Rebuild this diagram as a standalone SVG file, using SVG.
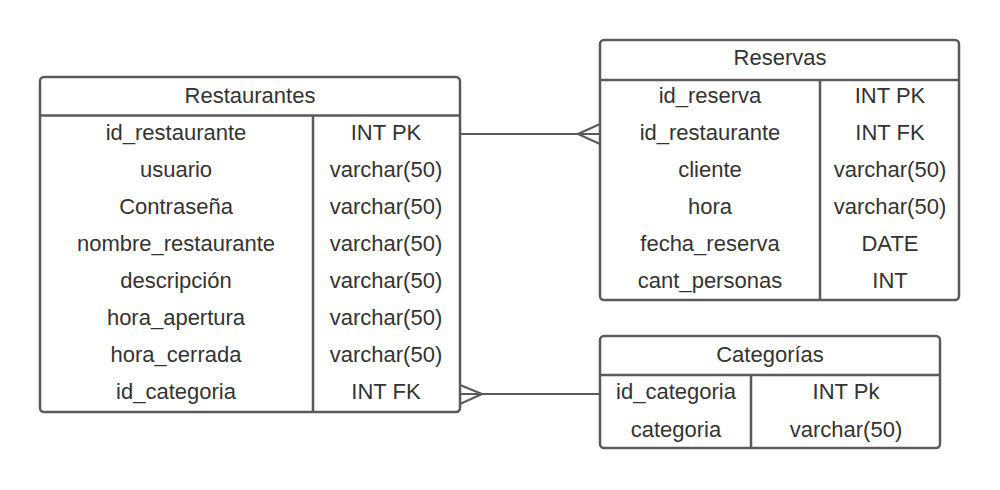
<svg xmlns="http://www.w3.org/2000/svg" width="1000" height="490" viewBox="0 0 1000 490">
<style>
.box{fill:#fff;stroke:#5a5a5a;stroke-width:2.5}
.ln{stroke:#5a5a5a;stroke-width:2.5;fill:none}
.cn{stroke:#5a5a5a;stroke-width:2;fill:none}
text{font-family:"Liberation Sans",Arial,sans-serif;font-size:22px;fill:#333;text-anchor:middle;dominant-baseline:central}
</style>
<rect width="1000" height="490" fill="#fff"/>
<g id="connectors">
<path class="cn" d="M460,134 H600 M578,134 L600,124 M578,134 L600,144"/>
<path class="cn" d="M460,394 H600 M482,394 L460,385 M482,394 L460,404"/>
</g>
<g id="restaurantes">
<rect class="box" x="40" y="77" width="420" height="335" rx="4"/>
<path class="ln" d="M40,115.5 H460 M313,115.5 V412"/>
<text x="250" y="95">Restaurantes</text>
<text x="176" y="132">id_restaurante</text><text x="386" y="132">INT PK</text>
<text x="176" y="169">usuario</text><text x="386" y="169">varchar(50)</text>
<text x="176" y="206">Contraseña</text><text x="386" y="206">varchar(50)</text>
<text x="176" y="243">nombre_restaurante</text><text x="386" y="243">varchar(50)</text>
<text x="176" y="280">descripción</text><text x="386" y="280">varchar(50)</text>
<text x="176" y="317">hora_apertura</text><text x="386" y="317">varchar(50)</text>
<text x="176" y="354">hora_cerrada</text><text x="386" y="354">varchar(50)</text>
<text x="176" y="391">id_categoria</text><text x="386" y="391">INT FK</text>
</g>
<g id="reservas">
<rect class="box" x="600" y="40" width="359" height="260" rx="4"/>
<path class="ln" d="M600,80 H959 M820,80 V300"/>
<text x="780" y="57">Reservas</text>
<text x="710" y="95">id_reserva</text><text x="890" y="95">INT PK</text>
<text x="710" y="132">id_restaurante</text><text x="890" y="132">INT FK</text>
<text x="710" y="169">cliente</text><text x="890" y="169">varchar(50)</text>
<text x="710" y="206">hora</text><text x="890" y="206">varchar(50)</text>
<text x="710" y="243">fecha_reserva</text><text x="890" y="243">DATE</text>
<text x="710" y="280">cant_personas</text><text x="890" y="280">INT</text>
</g>
<g id="categorias">
<rect class="box" x="600" y="336" width="340" height="112" rx="4"/>
<path class="ln" d="M600,375 H940 M751,375 V448"/>
<text x="770" y="354">Categorías</text>
<text x="676" y="391">id_categoria</text><text x="846" y="391">INT Pk</text>
<text x="676" y="429">categoria</text><text x="846" y="429">varchar(50)</text>
</g>
</svg>
